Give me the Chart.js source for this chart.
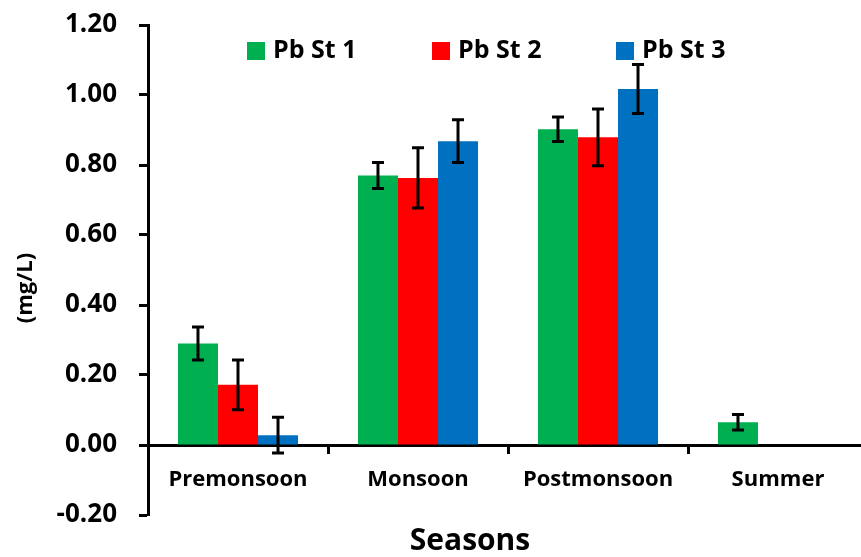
<!DOCTYPE html>
<html>
<head>
<meta charset="utf-8">
<script src="https://cdn.jsdelivr.net/npm/chart.js@4.4.1/dist/chart.umd.min.js"></script>
<style>
  html, body { margin: 0; padding: 0; background: #fff; overflow: hidden; }
  #wrap { width: 880px; height: 557px; }
</style>
</head>
<body>
<div id="wrap"><canvas id="seasonchart" width="880" height="557"></canvas></div>
<script>
var seasons = ['Premonsoon', 'Monsoon', 'Postmonsoon', 'Summer'];
var stationNames = ['Pb St 1', 'Pb St 2', 'Pb St 3'];

// mean Pb (mg/L) per season
var st1 = [0.29, 0.77, 0.902, 0.065];
var st2 = [0.172, 0.763, 0.879, null];
var st3 = [0.028, 0.868, 1.017, null];

// +/- error per season
var st1Err = [0.047, 0.037, 0.035, 0.022];
var st2Err = [0.071, 0.086, 0.081, null];
var st3Err = [0.051, 0.061, 0.07, null];

var yTicks = [-0.2, 0, 0.2, 0.4, 0.6, 0.8, 1.0, 1.2];

var COLORS = ['#00B050', '#FF0000', '#0070C0'];
var FONT = '"Open Sans", "DejaVu Sans", sans-serif';

var errorBars = {
  id: 'errorBars',
  afterDatasetsDraw: function(chart) {
    var ctx = chart.ctx;
    var y = chart.scales.y;
    ctx.save();
    ctx.strokeStyle = '#000';
    ctx.lineWidth = 3;
    chart.data.datasets.forEach(function(ds, i) {
      var meta = chart.getDatasetMeta(i);
      meta.data.forEach(function(bar, j) {
        var v = ds.data[j], e = ds.errors[j];
        if (v == null || e == null) return;
        var top = y.getPixelForValue(v + e);
        var bot = y.getPixelForValue(v - e);
        ctx.beginPath();
        ctx.moveTo(bar.x, top); ctx.lineTo(bar.x, bot);
        ctx.moveTo(bar.x - 6, top); ctx.lineTo(bar.x + 6, top);
        ctx.moveTo(bar.x - 6, bot); ctx.lineTo(bar.x + 6, bot);
        ctx.stroke();
      });
    });
    ctx.restore();
  }
};

// legend inside the plot + axis titles
var extras = {
  id: 'extras',
  afterDraw: function(chart) {
    var ctx = chart.ctx;
    ctx.save();
    var legendX = [247, 432, 616];
    ctx.font = 'bold 25px ' + FONT;
    ctx.textBaseline = 'middle';
    ctx.textAlign = 'left';
    chart.data.datasets.forEach(function(ds, i) {
      ctx.fillStyle = ds.backgroundColor;
      ctx.fillRect(legendX[i], 42, 18, 18);
      ctx.fillStyle = '#000';
      ctx.fillText(ds.label, legendX[i] + 26, 51);
    });

    ctx.textAlign = 'center';
    ctx.font = 'bold 30px ' + FONT;
    ctx.fillText('Seasons', 470, 541);

    ctx.translate(26, 288);
    ctx.rotate(-Math.PI / 2);
    ctx.font = 'bold 22px ' + FONT;
    ctx.fillText('(mg/L)', 0, 0);
    ctx.restore();
  }
};

var ctx = document.getElementById('seasonchart');

var barGraph = new Chart(ctx, {
  type: 'bar',
  data: {
    labels: seasons,
    datasets: [
      { label: stationNames[0], data: st1, errors: st1Err, backgroundColor: COLORS[0] },
      { label: stationNames[1], data: st2, errors: st2Err, backgroundColor: COLORS[1] },
      { label: stationNames[2], data: st3, errors: st3Err, backgroundColor: COLORS[2] }
    ]
  },
  options: {
    responsive: false,
    animation: false,
    layout: { padding: { top: 25, right: 12, left: 0, bottom: 42 } },
    datasets: { bar: { categoryPercentage: 0.667, barPercentage: 1.0 } },
    plugins: { legend: { display: false }, tooltip: { enabled: false } },
    scales: {
      x: {
        position: { y: 0 },
        grid: { drawOnChartArea: false, drawTicks: true, tickLength: 7, tickWidth: 3, tickColor: '#000', offset: true },
        border: { display: true, color: '#000', width: 3 },
        ticks: { color: '#000', padding: 15, font: { family: FONT, size: 22, weight: 'bold' } }
      },
      y: {
        min: -0.2,
        max: 1.2,
        afterBuildTicks: function(s) { s.ticks = yTicks.map(function(v) { return { value: v }; }); },
        grid: { drawOnChartArea: false, drawTicks: true, tickLength: 9, tickWidth: 3, tickColor: '#000' },
        border: { display: true, color: '#000', width: 3 },
        ticks: {
          color: '#000', padding: 22,
          font: { family: FONT, size: 26, weight: 'bold' },
          callback: function(v) { return Number(v).toFixed(2); }
        },
        afterFit: function(s) {
          s.width = 148;
          s.paddingTop = 0;
          s.paddingBottom = 0;
        }
      }
    }
  },
  plugins: [errorBars, extras]
});
</script>
</body>
</html>
